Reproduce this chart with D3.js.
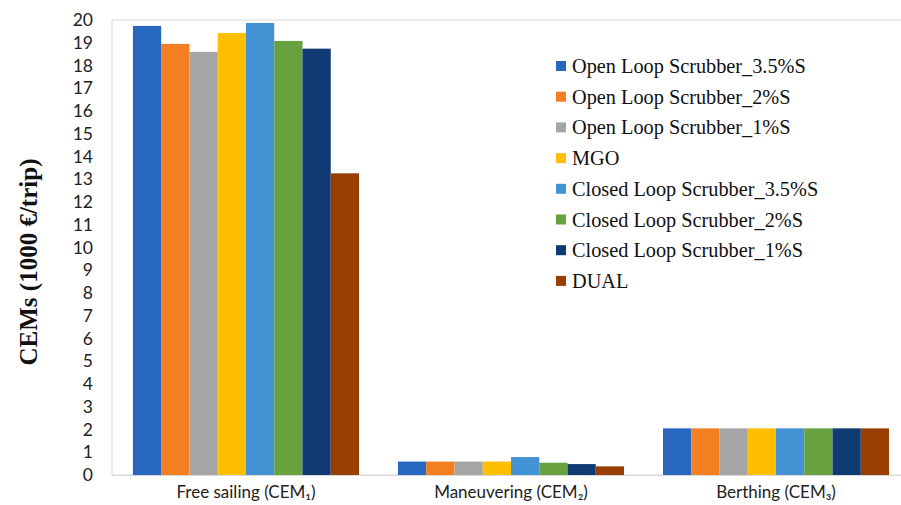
<!DOCTYPE html>
<html><head><meta charset="utf-8">
<script src="https://cdn.jsdelivr.net/npm/d3@7/dist/d3.min.js"></script>
<style>body{margin:0;background:#fff}svg{display:block}</style>
</head><body>
<svg id="c" width="901" height="505"></svg>
<script>
const categories = ["Free sailing (CEM\u2081)", "Maneuvering (CEM\u2082)", "Berthing (CEM\u2083)"];
const seriesNames = ["Open Loop Scrubber_3.5%S","Open Loop Scrubber_2%S","Open Loop Scrubber_1%S","MGO","Closed Loop Scrubber_3.5%S","Closed Loop Scrubber_2%S","Closed Loop Scrubber_1%S","DUAL"];
const colors = ["#2867c0","#f47f20","#a5a5a5","#fdbf00","#4392d4","#68a240","#0f3a74","#983e00"];
const freeSailing = [19.74, 18.95, 18.6, 19.43, 19.87, 19.08, 18.74, 13.26];
const maneuvering = [0.59, 0.59, 0.59, 0.59, 0.79, 0.54, 0.48, 0.38];
const berthing = [2.05, 2.05, 2.05, 2.05, 2.05, 2.05, 2.05, 2.05];
const yTicks = d3.range(0, 21, 1);

(function () {
const values = [freeSailing, maneuvering, berthing];
const svg = d3.select("#c");
const mLeft = 112, mTop = 20, mBottom = 475, mRight = 910;
const x0 = d3.scaleBand().domain(categories).range([mLeft, mRight]).paddingInner(0.147).paddingOuter(0.079);
const x1 = d3.scaleBand().domain(seriesNames).range([0, x0.bandwidth()]);
const y = d3.scaleLinear().domain([0, 20]).range([mBottom, mTop]);

svg.append("rect").attr("x", mLeft).attr("y", mTop).attr("width", mRight - mLeft).attr("height", mBottom - mTop)
  .attr("fill", "none").attr("stroke", "#d9d9d9").attr("stroke-width", 1);

const g = svg.append("g");
categories.forEach((c, ci) => {
  g.selectAll(null).data(values[ci]).enter().append("rect")
    .attr("x", (d, i) => x0(c) + x1(seriesNames[i]))
    .attr("y", d => y(d))
    .attr("width", x1.bandwidth())
    .attr("height", d => y(0) - y(d))
    .attr("fill", (d, i) => colors[i]);
});

const yAxis = d3.axisLeft(y).tickValues(yTicks).tickSize(0).tickPadding(19);
const ya = svg.append("g").attr("transform", `translate(${mLeft},0)`).call(yAxis);
ya.select(".domain").remove();
ya.selectAll("text").attr("font-family", "Lato, 'Open Sans', sans-serif").attr("font-size", 17.5).attr("fill", "#222");

const xAxis = d3.axisBottom(x0).tickSize(0).tickPadding(11);
const xa = svg.append("g").attr("transform", `translate(0,${mBottom})`).call(xAxis);
xa.select(".domain").attr("stroke", "#d9d9d9");
xa.selectAll("text").attr("font-family", "Lato, 'Open Sans', sans-serif").attr("font-size", 17).attr("fill", "#222");

svg.append("text").attr("transform", "translate(37,262) rotate(-90)")
  .attr("text-anchor", "middle").attr("font-family", "'Liberation Serif', 'Times New Roman', serif")
  .attr("font-weight", "bold").attr("font-size", 25).attr("fill", "#111").text("CEMs (1000 \u20ac/trip)");

const lg = svg.append("g");
seriesNames.forEach((s, i) => {
  const yy = 66 + i * 30.7;
  lg.append("rect").attr("x", 556).attr("y", yy - 5).attr("width", 10).attr("height", 10).attr("fill", colors[i]);
  lg.append("text").attr("x", 572).attr("y", yy + 7).attr("font-family", "'Liberation Serif', 'Times New Roman', serif")
    .attr("font-size", 20.3).attr("fill", "#111").text(s);
});
})();
</script>
</body></html>
